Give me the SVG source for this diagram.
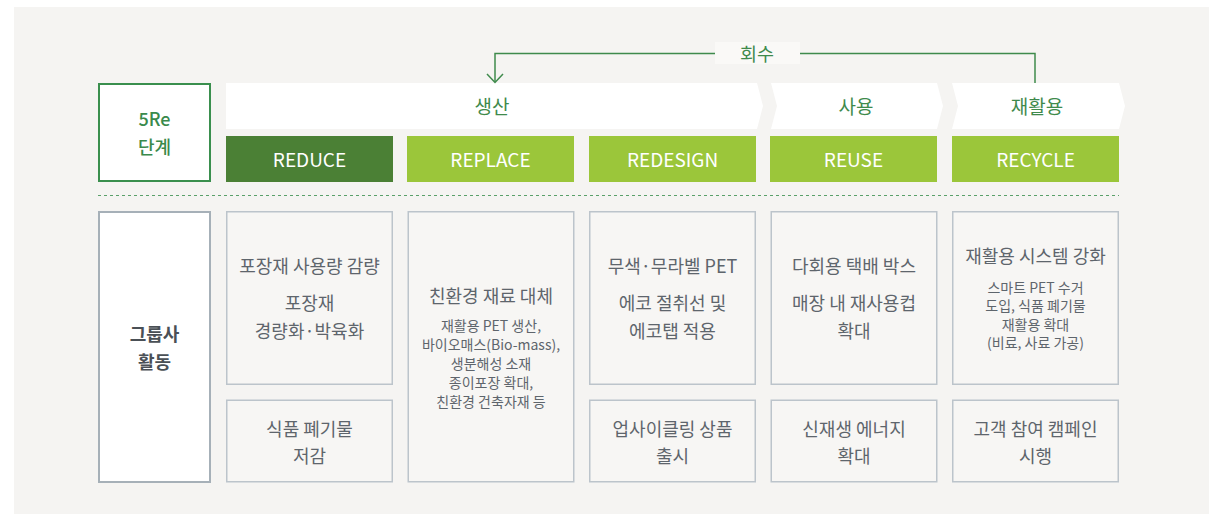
<svg xmlns="http://www.w3.org/2000/svg" width="1216" height="514" viewBox="0 0 1216 514">
<style>
text{font-family:"Noto Sans CJK KR","Noto Sans",sans-serif;text-anchor:middle;dominant-baseline:central}
.bg{fill:#f5f4f2}
.stage{fill:#ffffff}
.stageT{fill:#3f8a4c;font-size:19px}
.re{fill:#9bc63a}
.reT{fill:#ffffff;font-size:19px}
.box{fill:#f7f6f4;stroke:#bcc4cb;stroke-width:1.5}
.t{fill:#5e656c;font-size:18px}
.s{fill:#5e656c;font-size:14px}
.conn{fill:none;stroke:#3f8a4c;stroke-width:1.5}
</style>
<rect class="bg" x="14" y="7" width="1195" height="507"/>

<g id="label-5re">
<rect x="99" y="84" width="111" height="97" fill="#ffffff" stroke="#3a8f4e" stroke-width="2"/>
<text x="154.5" y="118" fill="#3a8a4c" font-size="18" font-weight="500">5Re</text>
<text x="154.5" y="146" fill="#3a8a4c" font-size="18" font-weight="500">단계</text>
</g>

<g id="stage-production">
<polygon class="stage" points="226,83 757,83 763,106 757,129 226,129"/>
<text class="stageT" x="492" y="105.5">생산</text>
</g>
<g id="stage-use">
<polygon class="stage" points="771,83 937,83 943,106 937,129 771,129 777,106"/>
<text class="stageT" x="856" y="105.5">사용</text>
</g>
<g id="stage-recycle">
<polygon class="stage" points="952,83 1119,83 1125,106 1119,129 952,129 958,106"/>
<text class="stageT" x="1037" y="105.5">재활용</text>
</g>

<g id="reduce"><rect x="226" y="136" width="167" height="46" fill="#4b8035"/><text class="reT" x="309.5" y="158">REDUCE</text></g>
<g id="replace"><rect class="re" x="407" y="136" width="167" height="46"/><text class="reT" x="490.5" y="158">REPLACE</text></g>
<g id="redesign"><rect class="re" x="589" y="136" width="167" height="46"/><text class="reT" x="672.5" y="158">REDESIGN</text></g>
<g id="reuse"><rect class="re" x="770" y="136" width="167" height="46"/><text class="reT" x="853.5" y="158">REUSE</text></g>
<g id="recycle"><rect class="re" x="952" y="136" width="167" height="46"/><text class="reT" x="1035.5" y="158">RECYCLE</text></g>

<line x1="98" y1="195.5" x2="1119" y2="195.5" stroke="#5aa06a" stroke-width="1" stroke-dasharray="3 3"/>

<g id="label-group">
<rect x="99" y="212" width="111" height="270" fill="#ffffff" stroke="#a6b0b8" stroke-width="2"/>
<text x="154.5" y="332.5" fill="#4a5056" font-size="18" font-weight="bold">그룹사</text>
<text x="154.5" y="360.5" fill="#4a5056" font-size="18" font-weight="bold">활동</text>
</g>

<g id="reduce-1">
<rect class="box" x="226.75" y="211.75" width="165.5" height="172.5"/>
<text class="t" x="309.5" y="264.5">포장재 사용량 감량</text>
<text class="t" x="309.5" y="301.5">포장재</text>
<text class="t" x="309.5" y="329.5">경량화·박육화</text>
</g>
<g id="reduce-2">
<rect class="box" x="226.75" y="400.25" width="165.5" height="81.5"/>
<text class="t" x="309.5" y="427.5">식품 폐기물</text>
<text class="t" x="309.5" y="454.5">저감</text>
</g>

<g id="replace-1">
<rect class="box" x="408.25" y="211.75" width="165.5" height="270"/>
<text class="t" x="491" y="294.5">친환경 재료 대체</text>
<text class="s" x="491" y="325">재활용 PET 생산,</text>
<text class="s" x="491" y="344">바이오매스(Bio-mass),</text>
<text class="s" x="491" y="363">생분해성 소재</text>
<text class="s" x="491" y="382">종이포장 확대,</text>
<text class="s" x="491" y="401">친환경 건축자재 등</text>
</g>

<g id="redesign-1">
<rect class="box" x="589.75" y="211.75" width="165.5" height="172.5"/>
<text class="t" x="672.5" y="264.5">무색·무라벨 PET</text>
<text class="t" x="672.5" y="301.5">에코 절취선 및</text>
<text class="t" x="672.5" y="329.5">에코탭 적용</text>
</g>
<g id="redesign-2">
<rect class="box" x="589.75" y="400.25" width="165.5" height="81.5"/>
<text class="t" x="672.5" y="427.5">업사이클링 상품</text>
<text class="t" x="672.5" y="454.5">출시</text>
</g>

<g id="reuse-1">
<rect class="box" x="771.25" y="211.75" width="165.5" height="172.5"/>
<text class="t" x="854" y="264.5">다회용 택배 박스</text>
<text class="t" x="854" y="301.5">매장 내 재사용컵</text>
<text class="t" x="854" y="329.5">확대</text>
</g>
<g id="reuse-2">
<rect class="box" x="771.25" y="400.25" width="165.5" height="81.5"/>
<text class="t" x="854" y="427.5">신재생 에너지</text>
<text class="t" x="854" y="454.5">확대</text>
</g>

<g id="recycle-1">
<rect class="box" x="952.75" y="211.75" width="165.5" height="172.5"/>
<text class="t" x="1035.5" y="254.5">재활용 시스템 강화</text>
<text class="s" x="1035.5" y="286.5">스마트 PET 수거</text>
<text class="s" x="1035.5" y="305">도입, 식품 폐기물</text>
<text class="s" x="1035.5" y="323.5">재활용 확대</text>
<text class="s" x="1035.5" y="342">(비료, 사료 가공)</text>
</g>
<g id="recycle-2">
<rect class="box" x="952.75" y="400.25" width="165.5" height="81.5"/>
<text class="t" x="1035.5" y="427.5">고객 참여 캠페인</text>
<text class="t" x="1035.5" y="454.5">시행</text>
</g>

<g id="connectors">
<path class="conn" d="M1035,83 V53.5 H495 V82"/>
<path class="conn" d="M487,74 L495,82.5 L503,74"/>
<rect x="715" y="42" width="85" height="22" fill="#faf9f7"/>
<text x="757" y="52.5" fill="#3f8a4c" font-size="18.5">회수</text>
</g>
</svg>
